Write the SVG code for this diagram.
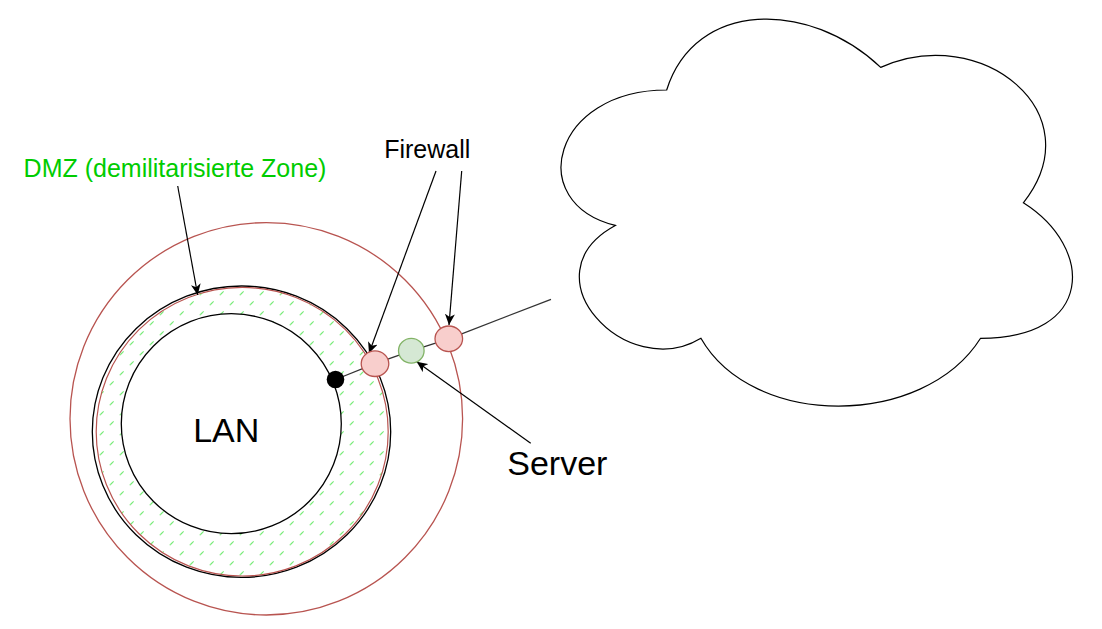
<svg xmlns="http://www.w3.org/2000/svg" width="1102" height="629" viewBox="0 0 1102 629">
<style>
.lbl{font-family:"Liberation Sans",Arial,Helvetica,sans-serif;text-anchor:middle}
.edge{fill:none;stroke:#000;stroke-width:1.2}
.link{fill:none;stroke:#333;stroke-width:1.3}
.fw{fill:#f8cecc;stroke:#b85450;stroke-width:1.3}
.srv{fill:#d5e8d4;stroke:#82b366;stroke-width:1.3}
</style>
<defs>
<pattern id="hatch" patternUnits="userSpaceOnUse" x="6.7" y="8.3" width="20" height="20">
<line x1="3.2" y1="16.8" x2="6.8" y2="13.2" stroke="#11dd11" stroke-width="1"/>
<line x1="13.2" y1="6.8" x2="16.8" y2="3.2" stroke="#11dd11" stroke-width="1"/>
</pattern>
<marker id="arr" markerUnits="userSpaceOnUse" markerWidth="12" markerHeight="10" refX="11" refY="5" orient="auto">
<path d="M11,5 L0,0 L3,5 L0,10 Z" fill="#000"/>
</marker>
</defs>
<rect width="1102" height="629" fill="#fff"/>

<g id="cloud">
<path d="M666.68,89.98 C552.54,89.98 524,202.85 615.31,225.43 C524,275.09 626.73,383.45 700.92,338.3 C752.28,428.6 923.49,428.6 980.56,338.3 C1094.7,338.3 1094.7,248 1023.36,202.85 C1094.7,112.55 980.56,22.25 880.69,67.4 C809.35,-0.32 695.21,-0.32 666.68,89.98 Z" fill="#fff" stroke="#000" stroke-width="1.2"/>
</g>

<g id="outer-zone">
<ellipse cx="266.3" cy="418.8" rx="196.3" ry="196.2" fill="none" stroke="#b85450" stroke-width="1.3"/>
</g>

<g id="dmz">
<ellipse cx="241.5" cy="431.7" rx="149.2" ry="145.7" fill="none" stroke="#000" stroke-width="1.3"/>
<ellipse cx="242.2" cy="431.7" rx="146" ry="144.3" fill="url(#hatch)" stroke="#b85450" stroke-width="1.2"/>
</g>

<g id="lan">
<circle cx="231.3" cy="423.7" r="110" fill="#fff" stroke="#000" stroke-width="1.3"/>
<text class="lbl" x="226.2" y="442" font-size="34" fill="#000">LAN</text>
</g>

<g id="connectors">
<line class="link" x1="335.5" y1="379.5" x2="375" y2="363.7"/>
<line class="link" x1="375" y1="363.7" x2="411.3" y2="350.8"/>
<line class="link" x1="411.3" y1="350.8" x2="448.8" y2="338.8"/>
<line class="link" x1="448.8" y1="338.8" x2="551" y2="299.3"/>
<line class="edge" x1="177.7" y1="186" x2="197.7" y2="295" marker-end="url(#arr)"/>
<line class="edge" x1="436" y1="171" x2="369" y2="353.3" marker-end="url(#arr)"/>
<line class="edge" x1="461.7" y1="171" x2="449" y2="325" marker-end="url(#arr)"/>
<line class="edge" x1="530.7" y1="443.3" x2="416.7" y2="361.7" marker-end="url(#arr)"/>
</g>

<g id="lan-port">
<circle cx="335.5" cy="379.5" r="8.8" fill="#000"/>
</g>
<g id="firewall-inner">
<ellipse class="fw" cx="375" cy="363.7" rx="13.8" ry="12.8"/>
</g>
<g id="server">
<ellipse class="srv" cx="411.3" cy="350.8" rx="12.8" ry="12.4"/>
</g>
<g id="firewall-outer">
<ellipse class="fw" cx="448.8" cy="338.8" rx="13.8" ry="12.8"/>
</g>

<g id="label-dmz">
<text class="lbl" x="175" y="177" font-size="25" fill="#00cc00">DMZ (demilitarisierte Zone)</text>
</g>
<g id="label-firewall">
<text class="lbl" x="427.2" y="158.3" font-size="25" fill="#000">Firewall</text>
</g>
<g id="label-server">
<text class="lbl" x="557.3" y="475" font-size="34" fill="#000">Server</text>
</g>
</svg>
